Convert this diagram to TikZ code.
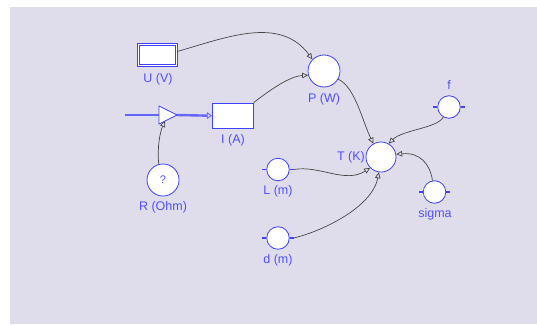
\documentclass[tikz,border=0pt]{standalone}
\usepackage{fontspec}
\setmainfont{Liberation Sans}
\usetikzlibrary{arrows.meta}
\definecolor{bg}{RGB}{223,221,236}
\definecolor{nblue}{RGB}{64,64,255}
\definecolor{tblue}{RGB}{80,80,255}
\definecolor{flowblue}{RGB}{100,100,255}
\definecolor{conncol}{RGB}{70,70,70}
\begin{document}
\begin{tikzpicture}[x=1pt,y=-1pt,
  lbl/.style={text=tblue, font=\fontsize{12.5}{14}\selectfont, inner sep=0pt},
  bigcirc/.style={circle, draw=nblue, fill=white, minimum size=32pt, inner sep=0pt, line width=0.8pt},
  auxcirc/.style={circle, draw=nblue, fill=white, minimum size=22.5pt, inner sep=0pt, line width=0.8pt},
  conn/.style={draw=conncol, line width=0.7pt, -{Triangle[open, length=6pt, width=5.5pt]}},
  tickmark/.style={draw=nblue, line width=1.4pt},
  flow/.style={draw=flowblue, line width=2.4pt},
  stockbox/.style={rectangle, draw=nblue, fill=white, line width=0.8pt, inner sep=0pt}
]
\useasboundingbox (0,0) rectangle (537,324);
\fill[white] (0,0) rectangle (537,324);
\fill[bg] (10,7) rectangle (537,324);

% stocks
\node[stockbox, double=white, double distance=1.4pt, minimum width=38pt, minimum height=21pt] (U) at (157.5,55) {};
\node[stockbox, minimum width=41pt, minimum height=25.5pt] (I) at (232.75,115.75) {};

% converter triangle
\draw[draw=nblue, fill=white, line width=0.8pt] (159,106) -- (159,124) -- (177,115) -- cycle;
\coordinate (trileft) at (159,115);
\coordinate (tritip) at (177,115);
\coordinate (tribot) at (165,121);
\coordinate (flowsrc) at (125,115);
\fill[nblue] (tritip) circle (1.2);

% flow pipe
\draw[flow] (flowsrc) -- (trileft);
\draw[flow, -{Triangle[open, length=5pt, width=7pt, line width=0.8pt]}] (tritip) -- (I.west);

% big circles
\node[bigcirc] (R) at (163,180) {\textcolor{tblue}{\fontsize{11}{12}\selectfont ?}};
\node[bigcirc] (P) at (324,71) {};
\node[bigcirc, minimum size=30pt] (T) at (381,157) {};

% auxiliaries with ticks
\node[auxcirc] (f) at (449,107) {};
\node[auxcirc] (L) at (278,169.5) {};
\node[auxcirc] (d) at (278,238) {};
\node[auxcirc] (sigma) at (434.5,192) {};
\foreach \n in {f,L,d,sigma}{
  \draw[tickmark] (\n.west) -- ++(-4,0) coordinate (\n l);
  \draw[tickmark] (\n.east) -- ++(4,0) coordinate (\n r);
}

% labels
\node[lbl] (lU) at (158,79) {U (V)};
\node[lbl] (lI) at (233,140) {I (A)};
\node[lbl] (lR) at (163,207) {R (Ohm)};
\node[lbl] (lP) at (324,99) {P (W)};
\node[lbl, anchor=east] (lT) at (365,157) {T (K)};
\node[lbl] (lf) at (449,85) {f};
\node[lbl] (lL) at (278,191) {L (m)};
\node[lbl] (ld) at (278,260) {d (m)};
\node[lbl] (lsigma) at (435,214) {sigma};

% connectors
\draw[conn] (U.10) .. controls (225,38) and (280,15) .. (P.135);
\draw[conn] (I.north east) .. controls (270,90) and (290,76) .. (P.195);
\draw[conn] (R.105) .. controls (157,148) and (160,132) .. (tribot);
\draw[conn] (P.-30) .. controls (355,87) and (362,120) .. (T.120);
\draw[conn] (f.240) .. controls (438,128) and (402,130) .. (T.60);
\draw[conn] (Lr) .. controls (320,165) and (345,184) .. (T.225);
\draw[conn] (dr) .. controls (320,232) and (372,208) .. (T.262);
\draw[conn] (sigma.100) .. controls (430,164) and (420,152) .. (T.10);
\end{tikzpicture}
\end{document}
